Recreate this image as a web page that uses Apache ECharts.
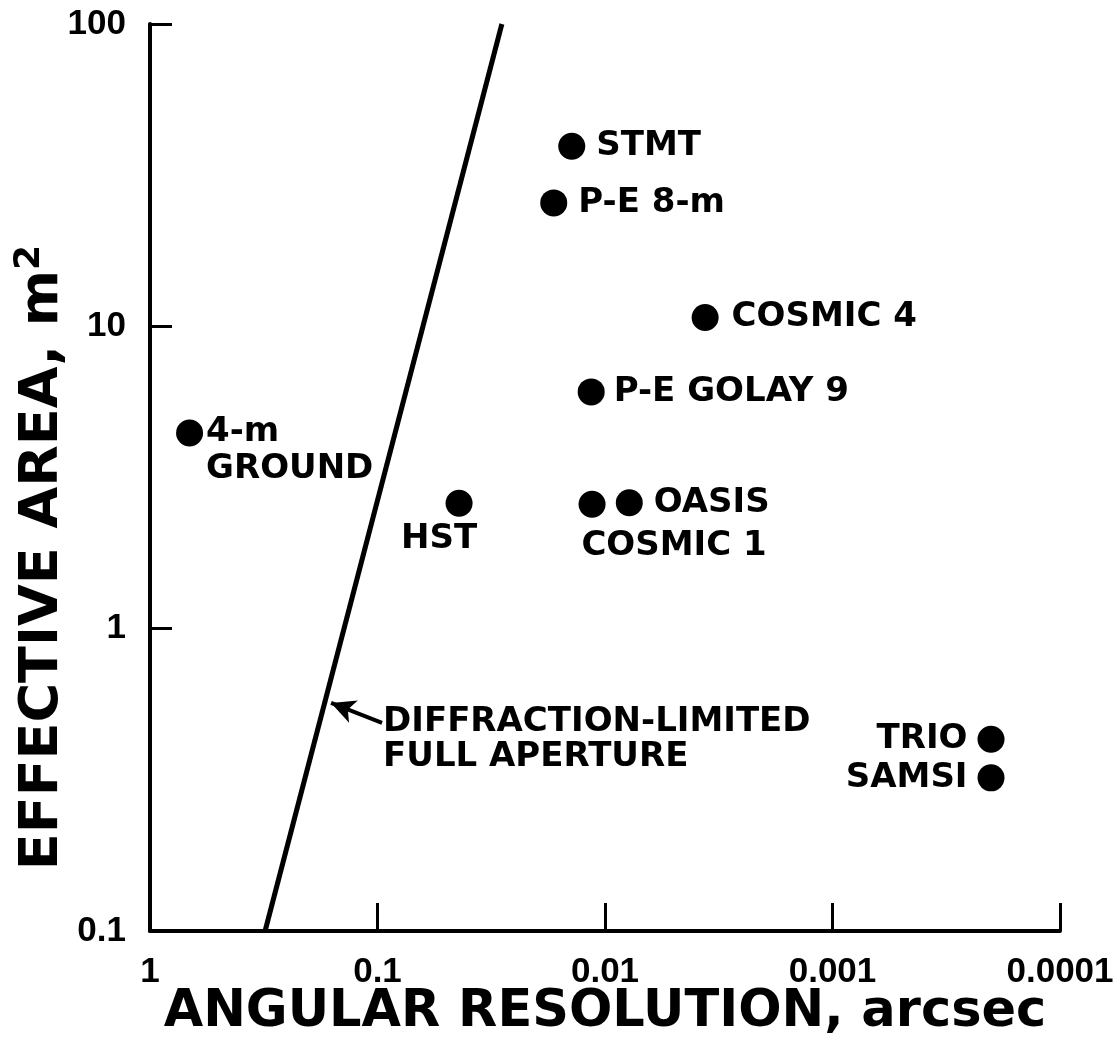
<!DOCTYPE html>
<html>
<head>
<meta charset="utf-8">
<title>Effective area vs angular resolution</title>
<script src="https://cdn.jsdelivr.net/npm/echarts@6/dist/echarts.min.js"></script>
<style>
  html, body { margin: 0; padding: 0; background: #fff; }
  #chart { width: 1117px; height: 1054px; }
</style>
</head>
<body>
<div id="chart"></div>
<script>
// telescopes: angular resolution (arcsec) against effective area (m2)
const names = ['4-m GROUND', 'HST', 'STMT', 'P-E 8-m', 'COSMIC 4', 'P-E GOLAY 9', 'COSMIC 1', 'OASIS', 'TRIO', 'SAMSI']
const resolution = [0.67, 0.0438, 0.0140, 0.0168, 0.00363, 0.0115, 0.0114, 0.00782, 0.000201, 0.000201]
const area = [4.44, 2.60, 39.4, 25.6, 10.7, 6.07, 2.58, 2.61, 0.431, 0.321]

// diffraction-limited full aperture line (end points)
const limitRes = [0.312, 0.0284]
const limitArea = [0.1, 100]

// arrow pointing at the line: tail, head
const arrowRes = [0.0955, 0.160]
const arrowArea = [0.488, 0.568]

const xTicks = ['1', '0.1', '0.01', '0.001', '0.0001']
const yTicks = ['0.1', '1', '10', '100']

const black = '#000'
const labelFont = { fontFamily: 'DejaVu Sans', fontWeight: 'bold', fontSize: 34, lineHeight: 35, color: black, opacity: 1 }
const tickFont = { fontFamily: 'Liberation Sans', fontWeight: 'bold', fontSize: 35, color: black }
const titleFont = { fontFamily: 'DejaVu Sans', fontWeight: 'bold', color: black }

// where each name sits around its dot
const labelPlace = {
  '4-m GROUND': { position: 'right', distance: 3, offset: [0, 18], lineHeight: 37, formatter: '4-m\nGROUND' },
  'HST': { position: 'bottom', distance: 5, offset: [-20, 0] },
  'STMT': { position: 'right', distance: 11 },
  'P-E 8-m': { position: 'right', distance: 11 },
  'COSMIC 4': { position: 'right', distance: 13 },
  'P-E GOLAY 9': { position: 'right', distance: 9 },
  'COSMIC 1': { position: 'bottom', distance: 11, offset: [82, 0] },
  'OASIS': { position: 'right', distance: 11 },
  'TRIO': { position: 'left', distance: 10 },
  'SAMSI': { position: 'left', distance: 10 }
}

const points = names.map((name, i) => ({
  name,
  value: [resolution[i], area[i]],
  label: { show: true, formatter: '{b}', ...labelFont, ...labelPlace[name] }
}))

const chart = echarts.init(document.getElementById('chart'))

chart.setOption({
  animation: false,
  grid: { left: 150, right: 57, top: 24, bottom: 123, containLabel: false, outerBoundsMode: 'none' },
  xAxis: {
    type: 'log',
    logBase: 10,
    min: 0.0001,
    max: 1,
    inverse: true,
    name: 'ANGULAR RESOLUTION, arcsec',
    nameLocation: 'middle',
    nameGap: 56,
    nameMoveOverlap: false,
    nameTextStyle: { ...titleFont, fontSize: 51 },
    axisLine: { lineStyle: { color: black, width: 4 } },
    axisTick: { inside: true, length: 28, lineStyle: { color: black, width: 3 } },
    axisLabel: {
      ...tickFont,
      margin: 24,
      showMinLabel: true,
      showMaxLabel: true,
      formatter: v => xTicks[Math.round(-Math.log10(v))]
    },
    splitLine: { show: false },
    minorTick: { show: false }
  },
  yAxis: {
    type: 'log',
    logBase: 10,
    min: 0.1,
    max: 100,
    name: 'EFFECTIVE AREA, m{sup|2}',
    nameLocation: 'middle',
    nameGap: 76,
    nameMoveOverlap: false,
    nameTextStyle: {
      ...titleFont,
      fontSize: 54,
      lineHeight: 62,
      padding: [0, 160, 0, 0],
      rich: { sup: { fontFamily: 'DejaVu Sans', fontWeight: 'bold', fontSize: 36, verticalAlign: 'top', color: black } }
    },
    axisLine: { lineStyle: { color: black, width: 4 } },
    axisTick: { inside: true, length: 22, lineStyle: { color: black, width: 3 } },
    axisLabel: {
      ...tickFont,
      margin: 24,
      showMinLabel: true,
      showMaxLabel: true,
      formatter: v => yTicks[Math.round(Math.log10(v)) + 1]
    },
    splitLine: { show: false },
    minorTick: { show: false }
  },
  series: [
    {
      name: 'limit',
      type: 'line',
      data: limitRes.map((r, i) => [r, limitArea[i]]),
      symbol: 'none',
      clip: false,
      lineStyle: { color: black, width: 5, opacity: 1 },
      markLine: {
        silent: true,
        symbol: ['none', 'arrow'],
        symbolSize: [18, 24],
        label: { show: false },
        lineStyle: { color: black, width: 4, type: 'solid', opacity: 1 },
        data: [[{ coord: [arrowRes[0], arrowArea[0]] }, { coord: [arrowRes[1], arrowArea[1]] }]]
      }
    },
    {
      name: 'note',
      type: 'scatter',
      symbolSize: 0,
      data: [[arrowRes[0], arrowArea[0]]],
      label: {
        show: true,
        position: 'right',
        distance: 1,
        offset: [0, 17],
        formatter: 'DIFFRACTION-LIMITED\nFULL APERTURE',
        ...labelFont
      }
    },
    {
      name: 'telescopes',
      type: 'scatter',
      symbol: 'circle',
      symbolSize: 27,
      itemStyle: { color: black, opacity: 1 },
      data: points
    }
  ]
})

window.addEventListener('resize', () => chart.resize())
</script>
</body>
</html>
